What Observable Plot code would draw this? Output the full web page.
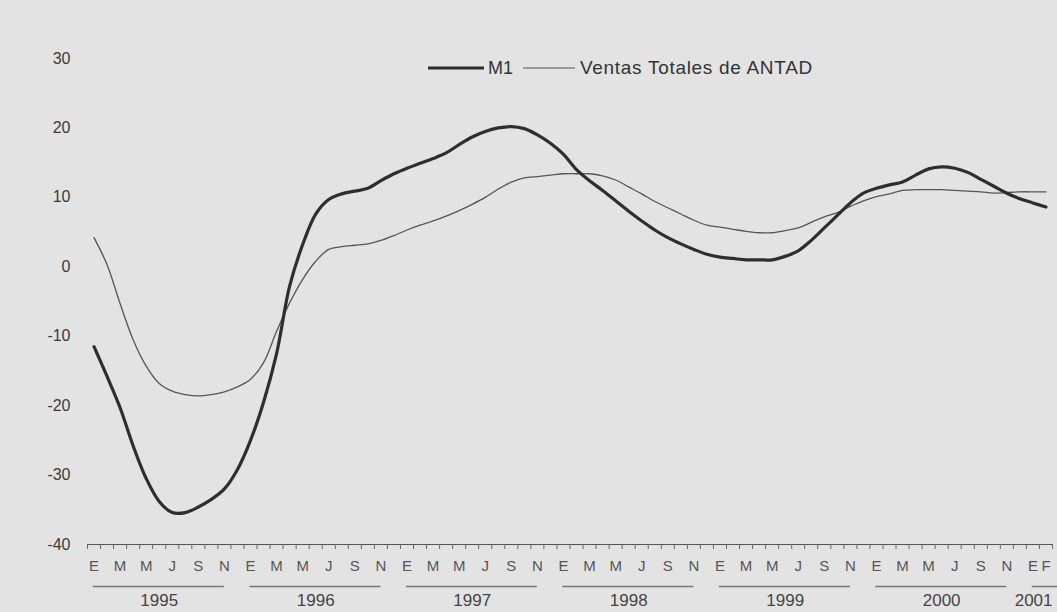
<!DOCTYPE html>
<html>
<head>
<meta charset="utf-8">
<script src="https://cdn.jsdelivr.net/npm/d3@7"></script>
<script src="https://cdn.jsdelivr.net/npm/@observablehq/plot@0.6"></script>
<style>
  html, body { margin: 0; padding: 0; background: #e3e3e3; }
  #wrap { position: relative; width: 1057px; height: 612px; font-family: "Liberation Sans", Arial, sans-serif; }
  #legend { position: absolute; left: 428px; top: 57px; display: flex; align-items: center; font-size: 18px; color: #333; white-space: nowrap; }
  #legend svg { display: block; }
</style>
</head>
<body>
<div id="wrap">
  <div id="legend">
    <svg width="56" height="8"><line x1="0" x2="56" y1="4" y2="4" stroke="#2e2e2e" stroke-width="3.2"/></svg>
    <span style="margin:0 10px 0 4px">M1</span>
    <svg width="52" height="8"><line x1="0" x2="52" y1="4" y2="4" stroke="#555" stroke-width="1.2"/></svg>
    <span style="margin-left:5px; font-size:19px; letter-spacing:0.7px">Ventas Totales de ANTAD</span>
  </div>
</div>
<script>
// Monthly series, January 1995 (index 0) to February 2001 (index 73)
const m1 = [
  -11.5, -15.8, -20.3, -25.8, -30.5, -33.8, -35.4, -35.4, -34.6, -33.5, -32.0, -29.2,
  -25.0, -19.5, -12.5, -2.8, 3.2, 7.6, 9.7, 10.5, 10.9, 11.3, 12.4, 13.4,
  14.2, 14.9, 15.6, 16.4, 17.6, 18.7, 19.5, 20.0, 20.2, 19.9, 19.0, 17.8,
  16.2, 14.0, 12.4, 11.0, 9.5, 8.0, 6.6, 5.3, 4.2, 3.3, 2.5, 1.8,
  1.4, 1.2, 1.0, 1.0, 1.0, 1.5, 2.3, 3.8, 5.6, 7.4, 9.2, 10.6,
  11.3, 11.8, 12.2, 13.2, 14.1, 14.4, 14.2, 13.6, 12.6, 11.6, 10.6, 9.8,
  9.2, 8.6
];
const ventas = [
  4.2, 0.3, -5.3, -10.5, -14.3, -16.8, -17.9, -18.4, -18.6, -18.4, -18.0, -17.3,
  -16.2, -13.8, -9.3, -5.2, -1.8, 0.8, 2.5, 2.9, 3.1, 3.3, 3.8, 4.5,
  5.3, 6.0, 6.6, 7.3, 8.1, 9.0, 10.0, 11.2, 12.2, 12.8, 13.0, 13.2,
  13.4, 13.4, 13.4, 13.1, 12.5, 11.5, 10.5, 9.4, 8.5, 7.6, 6.7, 6.0,
  5.7, 5.4, 5.1, 4.9, 4.9, 5.2, 5.6, 6.4, 7.2, 7.8, 8.7, 9.5,
  10.1, 10.5, 11.0, 11.1, 11.1, 11.1, 11.0, 10.9, 10.8, 10.6, 10.7, 10.8,
  10.8, 10.8
];
const monthLetters = ["E", "F", "M", "A", "M", "J", "J", "A", "S", "O", "N", "D"];
const years = ["1995", "1996", "1997", "1998", "1999", "2000", "2001"];
const yTicks = [-40, -30, -20, -10, 0, 10, 20, 30];

const n = m1.length;
const rowsM1 = m1.map((v, i) => ({i, v}));
const rowsV = ventas.map((v, i) => ({i, v}));
const labelIdx = d3.range(n).filter(i => i % 2 === 0 || i === n - 1);
const yearRows = years.map((y, k) => {
  const s = k * 12;
  const last = k === years.length - 1;
  return {label: y, x1: s - 0.05, x2: last ? n + 0.4 : s + 10, cx: last ? s + 0.05 : s + 5};
});

const font = '"Liberation Sans", Arial, sans-serif';

const chart = Plot.plot({
  width: 1057,
  height: 612,
  marginTop: 58,
  marginBottom: 68,
  marginLeft: 87,
  marginRight: 5,
  style: {background: "transparent", fontFamily: font, color: "#333", overflow: "visible"},
  x: {domain: [-0.5, n - 0.5]},
  y: {domain: [-40, 30]},
  marks: [
    Plot.axisY({ticks: yTicks, tickSize: 0, tickPadding: 17, fontSize: 16, fill: "#3a3a3a", label: null,
                tickFormat: d => String(d)}),
    Plot.ruleY([-40], {stroke: "#555", strokeWidth: 1.2}),
    Plot.axisX({ticks: d3.range(-0.5, n, 1), tickSize: 5, stroke: "#666", tickFormat: () => "", label: null}),
    Plot.axisX({ticks: labelIdx, tickSize: 0, tickPadding: 16, fontSize: 15, fill: "#555", label: null,
                tickFormat: i => monthLetters[i % 12]}),
    Plot.ruleY(yearRows, {x1: "x1", x2: "x2", y: () => -40, dy: 42, stroke: "#777", strokeWidth: 1.6}),
    Plot.text(yearRows, {x: "cx", y: () => -40, dy: 56, text: "label", fontSize: 17, fill: "#444"}),
    Plot.line(rowsV, {x: "i", y: "v", stroke: "#555", strokeWidth: 1.3, curve: "catmull-rom"}),
    Plot.line(rowsM1, {x: "i", y: "v", stroke: "#2e2e2e", strokeWidth: 3.2, curve: "catmull-rom"})
  ]
});
document.getElementById("wrap").prepend(chart);
</script>
</body>
</html>
